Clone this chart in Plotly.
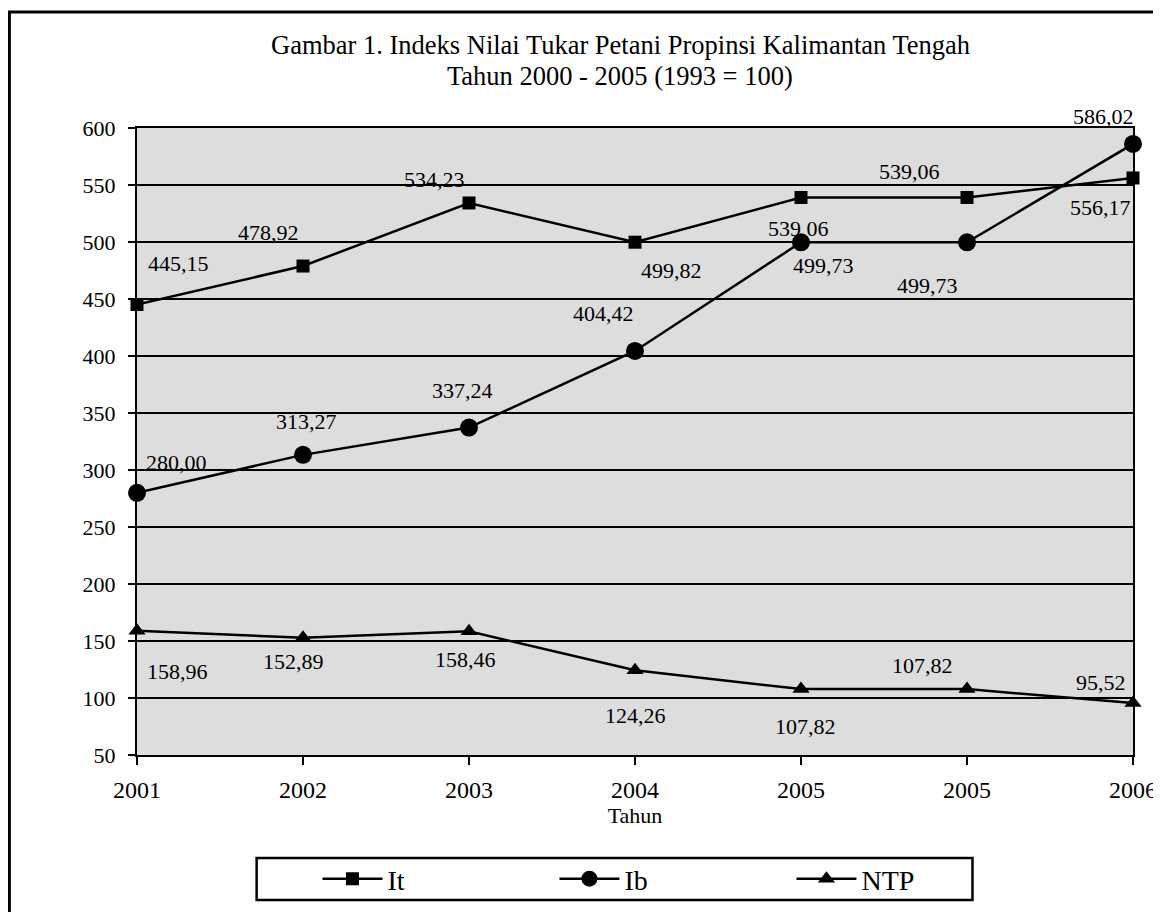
import plotly.graph_objects as go

# ---- data ----
tick_labels = ["2001", "2002", "2003", "2004", "2005", "2005", "2006"]
it_values = [445.15, 478.92, 534.23, 499.82, 539.06, 539.06, 556.17]
ib_values = [280.00, 313.27, 337.24, 404.42, 499.73, 499.73, 586.02]
ntp_values = [158.96, 152.89, 158.46, 124.26, 107.82, 107.82, 95.52]

# label offsets in pixels (dx, dy) relative to each point (style only)
it_off = [(41, 41), (-35, 34), (-35, 23), (36, -28), (-3, -31), (-58, 26), (-33, -30)]
ib_off = [(39, 30), (3, 33), (-7, 37), (-32, 37), (22, -23), (-40, -43), (-30, 27)]
ntp_off = [(40, -41), (-10, -24), (-4, -28), (0, -45), (4, -37), (-45, 24), (-32, 21)]

FONT = "Liberation Serif"
W, H = 1161, 912
OFF = 8  # the page body margin shifts the figure by 8 px
L, T = 137 - OFF, 128 - OFF
PW, PH = 999, 627
R = W - L - PW
B = H - T - PH

xs = list(range(len(tick_labels)))

fig = go.Figure()
series = [
    ("It", it_values, "square", 13, it_off),
    ("Ib", ib_values, "circle", 18, ib_off),
    ("NTP", ntp_values, "triangle-up", 15, ntp_off),
]
for name, vals, sym, size, _ in series:
    fig.add_trace(go.Scatter(
        x=xs, y=vals, name=name, mode="lines+markers",
        line=dict(color="black", width=2.5),
        marker=dict(symbol=sym, size=size, color="black"),
        cliponaxis=False,
    ))

annotations = []
for name, vals, sym, size, offs in series:
    for i, v in enumerate(vals):
        dx, dy = offs[i]
        annotations.append(dict(
            x=xs[i], y=v, xref="x", yref="y",
            text=f"{v:.2f}".replace(".", ","),
            showarrow=False, xshift=dx, yshift=dy,
            font=dict(family=FONT, size=22, color="black"),
        ))

def px(X):
    return (X - OFF - L) / PW
def py(Y):
    return (H - B - (Y - OFF)) / PH

annotations.append(dict(
    x=px(622), y=py(45), xref="paper", yref="paper", showarrow=False,
    xanchor="center", yanchor="middle",
    text="Gambar 1. Indeks Nilai Tukar Petani Propinsi Kalimantan Tengah",
    font=dict(family=FONT, size=26.5, color="black"),
))
annotations.append(dict(
    x=px(621), y=py(76), xref="paper", yref="paper", showarrow=False,
    xanchor="center", yanchor="middle",
    text="Tahun 2000 - 2005 (1993 = 100)",
    font=dict(family=FONT, size=26.5, color="black"),
))

fig.update_layout(
    width=W, height=H,
    margin=dict(l=L, r=R, t=T, b=B, pad=0),
    paper_bgcolor="white",
    plot_bgcolor="#dddddd",
    font=dict(family=FONT, color="black"),
    annotations=annotations,
    showlegend=True,
    legend=dict(
        orientation="h", x=px(318), y=py(879), xanchor="left", yanchor="middle",
        font=dict(family=FONT, size=28, color="black"),
        bgcolor="rgba(0,0,0,0)", borderwidth=0,
        itemwidth=60,
        entrywidth=162, entrywidthmode="pixels",
    ),
    shapes=[
        dict(type="rect", xref="paper", yref="paper",
             x0=px(257), x1=px(975), y0=py(900), y1=py(858),
             line=dict(color="black", width=2.5), fillcolor="rgba(0,0,0,0)"),
        dict(type="rect", xref="paper", yref="paper",
             x0=px(9), x1=px(1185), y0=py(940), y1=py(12),
             line=dict(color="black", width=3), fillcolor="rgba(0,0,0,0)"),
    ],
    xaxis=dict(
        range=[0, 6], tickmode="array", tickvals=xs, ticktext=tick_labels,
        showgrid=False, zeroline=False,
        showline=True, linecolor="black", linewidth=2, mirror=True,
        ticks="outside", ticklen=8, tickcolor="black", tickwidth=2,
        ticklabelstandoff=4,
        tickfont=dict(family=FONT, size=24, color="black"),
        title=dict(text="Tahun", font=dict(family=FONT, size=22, color="black"), standoff=2),
    ),
    yaxis=dict(
        range=[50, 600], tickmode="array", tickvals=list(range(50, 601, 50)),
        showgrid=True, gridcolor="black", gridwidth=2, zeroline=False,
        showline=True, linecolor="black", linewidth=2, mirror=True,
        ticks="outside", ticklen=7, tickcolor="black", tickwidth=2,
        ticklabelstandoff=8,
        tickfont=dict(family=FONT, size=22, color="black"),
    ),
)

fig.write_html("out.html")
